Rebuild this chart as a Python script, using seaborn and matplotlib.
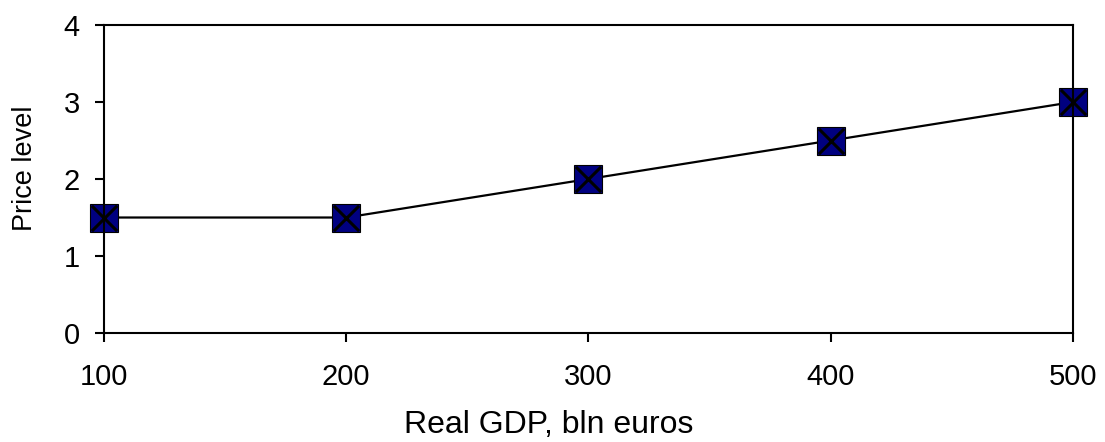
import pandas as pd
import seaborn as sns
import matplotlib.pyplot as plt

real_gdp = [100, 200, 300, 400, 500]
price_level = [1.5, 1.5, 2.0, 2.5, 3.0]

data = pd.DataFrame({'gdp': real_gdp, 'price': price_level})

sns.set_style('white')
plt.rcParams['font.family'] = ['Liberation Sans', 'DejaVu Sans']
plt.rcParams['text.color'] = 'black'
plt.rcParams['axes.labelcolor'] = 'black'
plt.rcParams['xtick.color'] = 'black'
plt.rcParams['ytick.color'] = 'black'

fig = plt.figure(figsize=(11.05, 4.42), dpi=100)
ax = fig.add_axes([0.0941, 0.2466, 0.8769, 0.6968])

sns.lineplot(x='gdp', y='price', data=data, color='black', linewidth=1.6,
             marker='s', markersize=19.5, markerfacecolor='#000080',
             markeredgecolor='black', markeredgewidth=0.8, ax=ax, clip_on=False)
sns.scatterplot(x='gdp', y='price', data=data, marker='x', s=330, color='black',
                linewidth=2.2, ax=ax, clip_on=False, zorder=5)

ax.set_xlim(100, 500)
ax.set_ylim(0, 4)
ax.set_xticks(real_gdp)
ax.set_yticks([0, 1, 2, 3, 4])
ax.tick_params(direction='out', length=6.5, width=1.5, colors='black',
               labelsize=21, bottom=True, left=True)
ax.tick_params(axis='x', pad=15)
ax.tick_params(axis='y', pad=11)
for s in ax.spines.values():
    s.set_color('black')
    s.set_linewidth(1.5)

# axis titles sit off-centre, like the original
ax.set_xlabel('Real GDP, bln euros', fontsize=23, va='center')
ax.xaxis.set_label_coords(0.459, -0.30)
ax.set_ylabel('Price level', fontsize=19.5, va='center')
ax.yaxis.set_label_coords(-0.081, 0.534)

fig.savefig('out.png', dpi=100)
